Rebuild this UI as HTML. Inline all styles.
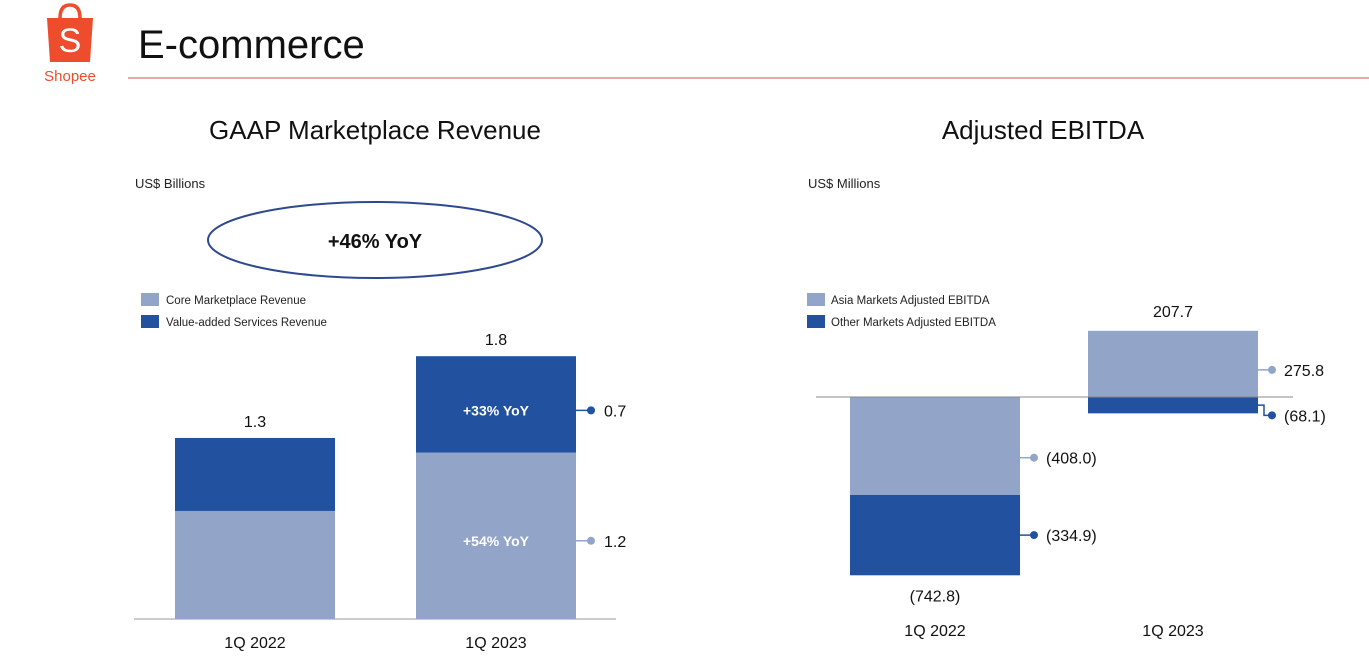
<!DOCTYPE html>
<html><head><meta charset="utf-8"><style>
body{margin:0;width:1369px;height:658px;background:#fff;overflow:hidden;font-family:"Liberation Sans",sans-serif}
</style></head><body>
<svg width="1369" height="658" viewBox="0 0 1369 658" xmlns="http://www.w3.org/2000/svg" font-family="Liberation Sans, sans-serif">
<g>
<path d="M60 18 Q60 5 70 5 Q80 5 80 18" fill="none" stroke="#ee4d2d" stroke-width="3.5"/>
<path d="M47 18 L93 18 L90 62 L50 62 Z" fill="#ee4d2d"/>
<text x="70" y="52" font-size="34" fill="#fff" text-anchor="middle">S</text>
<text x="70" y="81" font-size="15" fill="#ee4d2d" text-anchor="middle">Shopee</text>
</g>
<text x="138" y="58" font-size="40" fill="#111">E-commerce</text>
<line x1="128" y1="78" x2="1369" y2="78" stroke="#d9534f" stroke-width="1"/>

<text x="375" y="139" font-size="26" text-anchor="middle" fill="#111">GAAP Marketplace Revenue</text>
<text x="135" y="188" font-size="13" fill="#222">US$ Billions</text>
<ellipse cx="375" cy="240" rx="167" ry="38" fill="none" stroke="#2e4a8f" stroke-width="2"/>
<text x="375" y="248" font-size="20" font-weight="bold" text-anchor="middle" fill="#111">+46% YoY</text>
<rect x="141" y="293" width="18" height="13" fill="#92a5c9"/>
<text x="166" y="304" font-size="11.5" fill="#222">Core Marketplace Revenue</text>
<rect x="141" y="315" width="18" height="13" fill="#21519f"/>
<text x="166" y="326" font-size="11.5" fill="#222">Value-added Services Revenue</text>
<g id="left"></g>

<text x="1043" y="139" font-size="26" text-anchor="middle" fill="#111">Adjusted EBITDA</text>
<text x="808" y="188" font-size="13" fill="#222">US$ Millions</text>
<rect x="807" y="293" width="18" height="13" fill="#92a5c9"/>
<text x="831" y="304" font-size="11.5" fill="#222">Asia Markets Adjusted EBITDA</text>
<rect x="807" y="315" width="18" height="13" fill="#21519f"/>
<text x="831" y="326" font-size="11.5" fill="#222">Other Markets Adjusted EBITDA</text>
<g id="right"></g>
</svg>
<script>
const revCats=["1Q 2022","1Q 2023"];
const revCore=[0.74,1.14];
const revVas=[0.50,0.66];
const revTotalLabels=["1.3","1.8"];
const revCoreLabels=["","1.2"];
const revVasLabels=["","0.7"];
const revCoreYoY=["","+54% YoY"];
const revVasYoY=["","+33% YoY"];

const ebCats=["1Q 2022","1Q 2023"];
const ebAsia=[-408.0,275.8];
const ebOther=[-334.9,-68.1];
const ebTotalLabels=["(742.8)","207.7"];
const ebAsiaLabels=["(408.0)","275.8"];
const ebOtherLabels=["(334.9)","(68.1)"];

const NS="http://www.w3.org/2000/svg";
function mk(p,t,a,txt){const e=document.createElementNS(NS,t);for(const k in a)e.setAttribute(k,a[k]);if(txt!==undefined)e.textContent=txt;p.appendChild(e);return e;}
const L=document.getElementById('left'),R=document.getElementById('right');
const C1="#92a5c9",C2="#21519f";

// left chart
const lBase=619,lScale=146,lX=i=>175+i*241,lW=160;
const ly=v=>lBase-v*lScale;
mk(L,'line',{x1:134,y1:lBase,x2:616,y2:lBase,stroke:'#999','stroke-width':1});
revCats.forEach((c,i)=>{
  const x=lX(i),yc=ly(revCore[i]),yt=ly(revCore[i]+revVas[i]);
  let r=mk(L,'rect',{x:x,y:yc,width:lW,height:lBase-yc,fill:C1});
  
  
  r=mk(L,'rect',{x:x,y:yt,width:lW,height:yc-yt,fill:C2});
  
  
  let t=mk(L,'text',{x:x+lW/2,y:yt-11,'font-size':16,'text-anchor':'middle',fill:'#111'},revTotalLabels[i]);
  
  
  t=mk(L,'text',{x:x+lW/2,y:648,'font-size':16,'text-anchor':'middle',fill:'#111'},c);
  
  
  const cm=(yc+lBase)/2+5, vm=(yc+yt)/2+6;
  if(revCoreYoY[i]) mk(L,'text',{x:x+lW/2,y:cm+5,'font-size':14,'font-weight':'bold','text-anchor':'middle',fill:'#fff'},revCoreYoY[i]);
  if(revVasYoY[i]) mk(L,'text',{x:x+lW/2,y:vm+5,'font-size':14,'font-weight':'bold','text-anchor':'middle',fill:'#fff'},revVasYoY[i]);
  [[revCoreLabels[i],cm,C1],[revVasLabels[i],vm,C2]].forEach(([lab,yy,col])=>{
    if(!lab)return;
    mk(L,'line',{x1:x+lW,y1:yy,x2:x+lW+14,y2:yy,stroke:col,'stroke-width':1.5});
    mk(L,'circle',{cx:x+lW+15,cy:yy,r:4,fill:col});
    mk(L,'text',{x:x+lW+28,y:yy+6,'font-size':16,fill:'#111'},lab);
  });
});

// right chart
const rZero=397,rScale=0.24,rX=i=>850+i*238,rW=170;
const ry=v=>rZero-v*rScale;
ebCats.forEach((c,i)=>{
  const x=rX(i);
  const a=ebAsia[i],o=ebOther[i];
  let ya0,ya1,yo0,yo1;
  if(a<0){ya0=rZero;ya1=ry(a);yo0=ya1;yo1=ry(a+o);}
  else{ya0=ry(a);ya1=rZero;yo0=rZero;yo1=ry(o);}
  let r=mk(R,'rect',{x:x,y:Math.min(ya0,ya1),width:rW,height:Math.abs(ya1-ya0),fill:C1});
  
  
  r=mk(R,'rect',{x:x,y:Math.min(yo0,yo1),width:rW,height:Math.abs(yo1-yo0),fill:C2});
  
  
  const tot=a+o;
  const ty=tot<0?ry(tot)+26:Math.min(ya0,yo1)-14;
  let t=mk(R,'text',{x:x+rW/2,y:ty,'font-size':16,'text-anchor':'middle',fill:'#111'},ebTotalLabels[i]);
  
  
  t=mk(R,'text',{x:x+rW/2,y:636,'font-size':16,'text-anchor':'middle',fill:'#111'},c);
  
  
  const am=a<0?ya0+(ya1-ya0)*0.62:(ya0+ya1)/2+6, om=(yo0+yo1)/2;
  const small=Math.abs(yo1-yo0)<30;
  const oy=small?Math.max(yo0,yo1)+2:om;
  mk(R,'line',{x1:x+rW,y1:am,x2:x+rW+12,y2:am,stroke:C1,'stroke-width':1.5});
  mk(R,'circle',{cx:x+rW+14,cy:am,r:4,fill:C1});
  mk(R,'text',{x:x+rW+26,y:am+6,'font-size':16,fill:'#111'},ebAsiaLabels[i]);
  if(small) mk(R,'polyline',{points:`${x+rW},${om} ${x+rW+6},${om} ${x+rW+6},${oy} ${x+rW+12},${oy}`,fill:'none',stroke:C2,'stroke-width':1.5});
  else mk(R,'line',{x1:x+rW,y1:om,x2:x+rW+12,y2:om,stroke:C2,'stroke-width':1.5});
  mk(R,'circle',{cx:x+rW+14,cy:oy,r:4,fill:C2});
  mk(R,'text',{x:x+rW+26,y:oy+6,'font-size':16,fill:'#111'},ebOtherLabels[i]);
});
mk(R,'line',{x1:816,y1:rZero,x2:1293,y2:rZero,stroke:'#888','stroke-width':1});
</script>
</body></html>
